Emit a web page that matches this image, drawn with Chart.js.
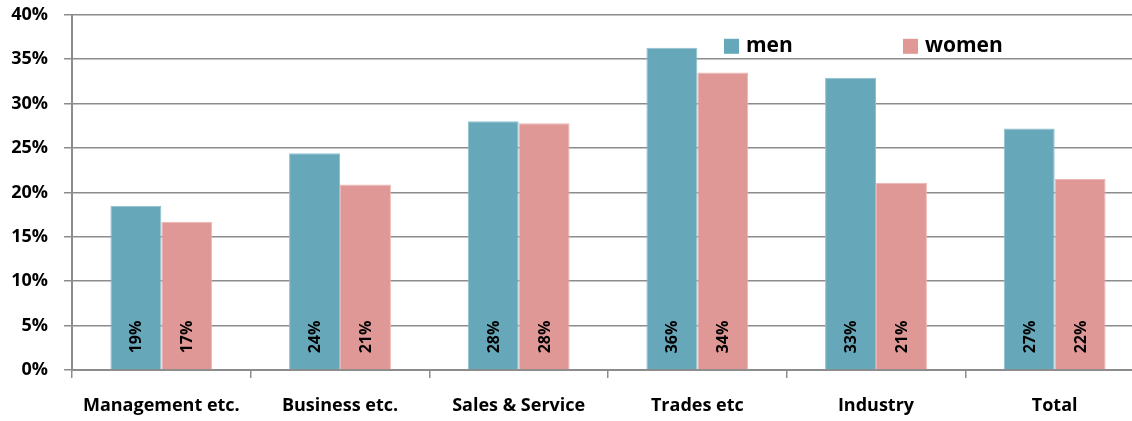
<!DOCTYPE html>
<html>
<head>
<meta charset="utf-8">
<script src="https://cdn.jsdelivr.net/npm/chart.js@4.4.0/dist/chart.umd.min.js"></script>
<style>
  html, body { margin: 0; padding: 0; background: #fff; overflow: hidden; }
  #wrap { width: 1144px; height: 433px; margin-top: -12px; }
</style>
</head>
<body>
<div id="wrap"><canvas id="chart"></canvas></div>
<script>
'use strict';

const categories = ['Management etc.', 'Business etc.', 'Sales & Service', 'Trades etc', 'Industry', 'Total'];
const men   = [18.5, 24.4, 28.0, 36.3, 32.9, 27.2];
const women = [16.7, 20.9, 27.8, 33.5, 21.1, 21.5];
const yTicks = [0, 5, 10, 15, 20, 25, 30, 35, 40];

const MEN_COL = '#66a8ba';
const WOMEN_COL = '#df9896';
const FONT = '"Open Sans", Lato, sans-serif';

// rotated value labels near the base of each bar
const barLabels = {
  id: 'barLabels',
  afterDatasetsDraw(chart) {
    const { ctx, chartArea } = chart;
    ctx.save();
    ctx.font = 'bold 16px ' + FONT;
    ctx.fillStyle = '#000';
    ctx.textAlign = 'center';
    ctx.textBaseline = 'middle';
    chart.data.datasets.forEach((ds, i) => {
      chart.getDatasetMeta(i).data.forEach((bar, j) => {
        ctx.save();
        ctx.translate(bar.x + 1, chartArea.bottom - 33);
        ctx.rotate(-Math.PI / 2);
        ctx.fillText(Math.round(ds.data[j]) + '%', 0, 0);
        ctx.restore();
      });
    });
    ctx.restore();
  },
};

// legend drawn inside the plot area
const innerLegend = {
  id: 'innerLegend',
  afterDraw(chart) {
    const { ctx, chartArea } = chart;
    const top = chartArea.top + 24;
    const items = [
      { label: 'men', color: MEN_COL, x: 724 },
      { label: 'women', color: WOMEN_COL, x: 903 },
    ];
    ctx.save();
    ctx.font = 'bold 21px ' + FONT;
    ctx.textBaseline = 'middle';
    items.forEach(it => {
      ctx.fillStyle = it.color;
      ctx.fillRect(it.x, top, 15, 15);
      ctx.fillStyle = '#000';
      ctx.fillText(it.label, it.x + 22, top + 7);
    });
    ctx.restore();
  },
};

new Chart(document.getElementById('chart').getContext('2d'), {
  type: 'bar',
  data: {
    labels: categories,
    datasets: [
      { label: 'men', data: men, backgroundColor: MEN_COL, borderColor: '#8fc0cd', borderWidth: 1 },
      { label: 'women', data: women, backgroundColor: WOMEN_COL, borderColor: '#ebb6b4', borderWidth: 1 },
    ],
  },
  options: {
    responsive: true,
    maintainAspectRatio: false,
    animation: false,
    barPercentage: 1,
    categoryPercentage: 0.57,
    layout: { padding: { top: 0, right: 0, left: 0, bottom: 0 } },
    plugins: { legend: { display: false }, tooltip: { enabled: false } },
    scales: {
      x: {
        grid: { offset: true, drawOnChartArea: false, color: '#8c8c8c', lineWidth: 1.5, tickLength: 8 },
        border: { color: '#8c8c8c', width: 2 },
        ticks: { color: '#000', font: { family: FONT, size: 18, weight: 'bold' }, padding: 17, maxRotation: 0 },
        afterFit(scale) { scale.height = 51; },
      },
      y: {
        min: 0,
        max: 40,
        afterBuildTicks(scale) { scale.ticks = yTicks.map(v => ({ value: v })); },
        grid: { color: '#8c8c8c', lineWidth: 1.5, tickLength: 8 },
        border: { color: '#8c8c8c', width: 2 },
        ticks: { color: '#000', font: { family: FONT, size: 18, weight: 'bold' }, padding: 16, callback: v => v + '%' },
        afterFit(scale) { scale.width = 72; },
      },
    },
  },
  plugins: [barLabels, innerLegend],
});
</script>
</body>
</html>
